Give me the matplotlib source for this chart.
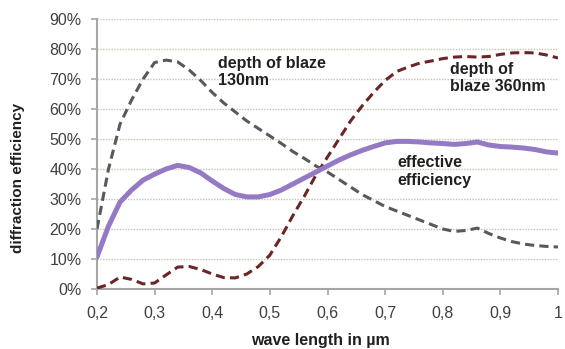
import matplotlib
matplotlib.use("Agg")
import matplotlib.pyplot as plt
from matplotlib.ticker import FuncFormatter, MultipleLocator

plt.rcParams['font.family'] = ['Liberation Sans', 'DejaVu Sans']

wavelength = [0.20, 0.22, 0.24, 0.26, 0.28, 0.30, 0.32, 0.34, 0.36, 0.38,
              0.40, 0.42, 0.44, 0.46, 0.48, 0.50, 0.52, 0.54, 0.56, 0.58,
              0.60, 0.62, 0.64, 0.66, 0.68, 0.70, 0.72, 0.74, 0.76, 0.78,
              0.80, 0.82, 0.84, 0.86, 0.88, 0.90, 0.92, 0.94, 0.96, 0.98, 1.00]

blaze_130 = [20, 40, 55, 63, 70, 75.5, 76.3, 75.7, 73, 69.5,
             65.5, 62, 59, 56, 53.5, 51, 48.5, 45.8, 43.5, 41,
             39, 36.5, 34, 31.5, 29.5, 27.5, 26, 24.5, 23, 21.5,
             20, 19.2, 19.5, 20.3, 18.5, 17, 15.8, 15, 14.5, 14.2, 14]

effective = [10.7, 21, 29, 33, 36.3, 38.3, 40, 41.2, 40.5, 38.7,
             36, 33.5, 31.5, 30.7, 30.7, 31.5, 33, 35, 37, 39,
             41, 43, 44.7, 46.2, 47.5, 48.7, 49.2, 49.2, 49, 48.7,
             48.5, 48.2, 48.5, 49, 48, 47.5, 47.3, 47, 46.5, 45.7, 45.3]

blaze_360 = [0.3, 1.5, 4, 3.2, 1.7, 2, 4.7, 7.3, 7.5, 6.5,
             5, 3.8, 3.7, 5, 7.5, 11.3, 17.5, 24.5, 31, 38,
             44, 50, 56, 61, 65.5, 69.5, 72.5, 74, 75.3, 76,
             76.8, 77.3, 77.5, 77.3, 77.5, 78.2, 78.7, 78.8, 78.7, 78, 77]

x_ticks = [0.2, 0.3, 0.4, 0.5, 0.6, 0.7, 0.8, 0.9, 1.0]

W, H = 565, 349
fig = plt.figure(figsize=(W / 100, H / 100), dpi=100)
ax = fig.add_axes([97 / W, 1 - 289 / H, (558 - 97) / W, (289 - 19) / H])

ax.plot(wavelength, blaze_130, color='#595959', lw=2.2, dashes=(3, 1.7), zorder=3)
ax.plot(wavelength, blaze_360, color='#6a2626', lw=2.2, dashes=(3, 1.7), zorder=3)
ax.plot(wavelength, effective, color='#9479c4', lw=3.6, zorder=4, solid_capstyle='round')

ax.set_xlim(0.2, 1.0)
ax.set_ylim(0, 90)
ax.set_xticks(x_ticks)
ax.yaxis.set_major_locator(MultipleLocator(10))
ax.xaxis.set_major_formatter(FuncFormatter(lambda v, p: ('%g' % round(v, 1)).replace('.', ',')))
ax.yaxis.set_major_formatter(FuncFormatter(lambda v, p: '%d%%' % round(v)))

ax.grid(axis='y', color='#c4c4b0', linestyle=(0, (1, 1)), lw=1.0, zorder=0)
ax.set_axisbelow(True)
for s in ['top', 'right']:
    ax.spines[s].set_visible(False)
for s in ['left', 'bottom']:
    ax.spines[s].set_color('#a6a6a6')
    ax.spines[s].set_linewidth(1.5)
ax.tick_params(axis='both', colors='#a6a6a6', length=4, width=1.2, labelsize=11.5,
               labelcolor='#404040')
ax.tick_params(axis='x', pad=8)
ax.tick_params(axis='y', pad=7)

fig.text(320 / W, 1 - 340 / H, 'wave length in µm', fontsize=11.5, fontweight='bold',
         color='#202020', ha='center', va='center')
fig.text(18 / W, 1 - 178 / H, 'diffraction efficiency', fontsize=11, fontweight='bold',
         color='#202020', ha='center', va='center', rotation=90)

tk = dict(fontsize=11.5, fontweight='bold', color='#202020', va='center', ha='left',
          linespacing=1.2, transform=fig.transFigure)
fig.text(218 / W, 1 - 72 / H, 'depth of blaze\n130nm', **tk)
fig.text(450 / W, 1 - 78 / H, 'depth of\nblaze 360nm', **tk)
fig.text(397 / W, 1 - 171.5 / H, 'effective\nefficiency', **tk)

fig.savefig('out.png', dpi=100)
